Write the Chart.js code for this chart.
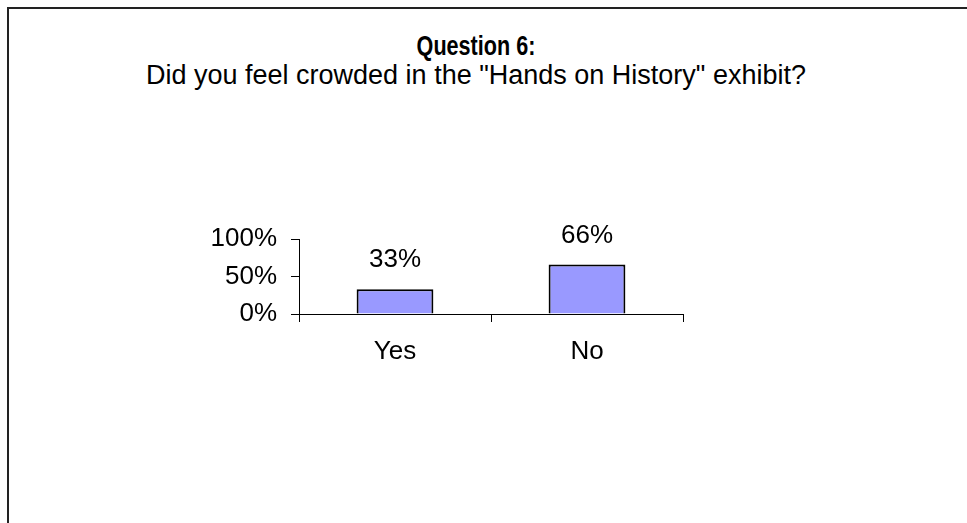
<!DOCTYPE html>
<html>
<head>
<meta charset="utf-8">
<title>Question 6</title>
<script src="https://cdn.jsdelivr.net/npm/chart.js@4.4.1/dist/chart.umd.min.js"></script>
<style>
  html, body { margin: 0; padding: 0; background: #fff; overflow: hidden; }
  body { width: 967px; height: 523px; position: relative; font-family: Arial, "Liberation Sans", sans-serif; }
  .frame { position: absolute; left: 7px; top: 7px; width: 1000px; height: 600px; border: 2px solid #222; }
  .heading { position: absolute; left: 0; width: 952px; text-align: center; color: #000; font-size: 27px; line-height: 32px; white-space: nowrap; }
  /* narrow bold heading line */
  #q { top: 30px; font-weight: bold; transform: scaleX(0.8); transform-origin: 476px 50%; }
  #sub { top: 59px; }
  canvas { position: absolute; left: 0; top: 0; }
</style>
</head>
<body>
<div class="frame"></div>
<div class="heading" id="q">Question 6:</div>
<div class="heading" id="sub">Did you feel crowded in the "Hands on History" exhibit?</div>
<canvas id="chart" width="967" height="523"></canvas>
<script>
const answers = ['Yes', 'No']
const shares = [33, 66]
const percentTicks = [0, 50, 100]

const font = { family: 'Arial, "Liberation Sans", sans-serif', size: 26 }

// value labels above each bar
const barLabels = {
    id: 'barLabels',
    afterDatasetsDraw(chart) {
        const ctx = chart.ctx
        const meta = chart.getDatasetMeta(0)
        ctx.save()
        ctx.font = `${font.size}px ${font.family}`
        ctx.fillStyle = '#000'
        ctx.textAlign = 'center'
        ctx.textBaseline = 'alphabetic'
        meta.data.forEach((bar, i) => {
            ctx.fillText(shares[i] + '%', bar.x, bar.y - 22)
        })
        ctx.restore()
    }
}

new Chart(document.getElementById('chart'), {
    type: 'bar',
    data: {
        labels: answers,
        datasets: [{
            data: shares,
            backgroundColor: '#9999FF',
            borderColor: '#000',
            borderWidth: 2,
            borderSkipped: 'bottom',
            barPercentage: 0.4,
            categoryPercentage: 1
        }]
    },
    options: {
        responsive: false,
        devicePixelRatio: 1,
        animation: false,
        layout: { padding: { left: 199, top: 239, right: 284, bottom: 139 } },
        plugins: {
            legend: { display: false },
            tooltip: { enabled: false }
        },
        scales: {
            x: {
                grid: { display: true, drawOnChartArea: false, tickLength: 8, color: '#000', offset: true },
                border: { display: true, color: '#000', width: 1 },
                ticks: { color: '#000', font: font, padding: 14, maxRotation: 0 },
                afterFit(scale) { scale.height = 70 }
            },
            y: {
                min: 0,
                max: 100,
                afterBuildTicks(scale) { scale.ticks = percentTicks.map(v => ({ value: v })) },
                grid: { display: true, drawOnChartArea: false, tickLength: 8, color: '#000' },
                border: { display: true, color: '#000', width: 1 },
                ticks: { color: '#000', font: font, padding: 14, callback: v => v + '%' },
                afterFit(scale) { scale.width = 100 }
            }
        }
    },
    plugins: [barLabels]
})
</script>
</body>
</html>
